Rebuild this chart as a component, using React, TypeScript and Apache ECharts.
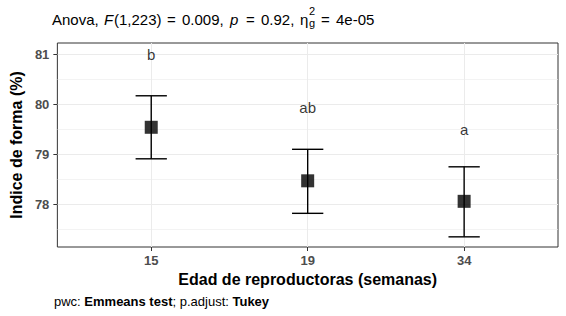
import React, { useEffect, useRef } from "react";
import * as echarts from "echarts";

const categories = ["15", "19", "34"];
const means = [79.54, 78.47, 78.06];
const lower = [78.91, 77.82, 77.35];
const upper = [80.17, 79.1, 78.75];
const letters = ["b", "ab", "a"];
const letterY = [81.0, 79.93, 79.49];
const yTicks = [78, 79, 80, 81];
const yMinor = [77.5, 78.5, 79.5, 80.5];
const yMin = 77.147;
const yMax = 81.225;
const xTitle = "Edad de reproductoras (semanas)";
const yTitle = "Indice de forma (%)";

const FONT = "'Liberation Sans', Arial, Helvetica, sans-serif";

type Seg = { t: string; size: number; x?: number; weight?: string; style?: string; dy?: number };

function measure(ctx: CanvasRenderingContext2D, s: Seg) {
  ctx.font = `${s.style || "normal"} ${s.weight || "normal"} ${s.size}px ${FONT}`;
  return ctx.measureText(s.t).width;
}

function textEl(s: Seg, x: number, baseline: number) {
  return {
    type: "text",
    x,
    y: baseline + (s.dy || 0) - 0.3465 * s.size,
    silent: true,
    style: {
      text: s.t,
      fontSize: s.size,
      fontFamily: FONT,
      fontWeight: s.weight || "normal",
      fontStyle: s.style || "normal",
      fill: "#000",
      align: "left",
      verticalAlign: "middle",
    },
  };
}

export default function App() {
  const ref = useRef<HTMLDivElement>(null);
  useEffect(() => {
    if (!ref.current) return;
    const chart = echarts.init(ref.current, undefined, { renderer: "svg" });
    const canvas = document.createElement("canvas");
    const ctx = canvas.getContext("2d")!;

    // title laid out like R plotmath, with its wider spacing
    const titleSegs: Seg[] = [
      { t: "Anova,", size: 15, x: 52 },
      { t: "F", size: 15, x: 104, style: "italic" },
      { t: "(1,223)", size: 15, x: 114 },
      { t: "=", size: 15, x: 167 },
      { t: "0.009,", size: 15, x: 182 },
      { t: "p", size: 15, x: 230, style: "italic" },
      { t: "=", size: 15, x: 246 },
      { t: "0.92,", size: 15, x: 261 },
      { t: "η", size: 15, x: 300 },
      { t: "2", size: 11, x: 309, dy: -10 },
      { t: "g", size: 11, x: 309, dy: 2 },
      { t: "=", size: 15, x: 321 },
      { t: "4e-05", size: 15, x: 336 },
    ];
    const captionSegs: Seg[] = [
      { t: "pwc: ", size: 13 },
      { t: "Emmeans test", size: 13, weight: "bold" },
      { t: "; p.adjust: ", size: 13 },
      { t: "Tukey", size: 13, weight: "bold" },
    ];
    const graphics: any[] = titleSegs.map((s) => textEl(s, s.x as number, 25));
    let cx = 54;
    for (const s of captionSegs) {
      graphics.push(textEl(s, cx, 306));
      cx += measure(ctx, s);
    }

    const xs = categories.map((_, i) => i + 1);
    const errData = xs.map((x, i) => [x, lower[i], upper[i]]);
    const meanData = xs.map((x, i) => [x, means[i]]);
    const letterData = xs.map((x, i) => ({ value: [x, letterY[i]], name: letters[i] }));

    const grid = "#ebebeb";
    const markData = [
      ...yTicks.map((v) => ({ yAxis: v, lineStyle: { color: grid, width: 1, type: "solid" } })),
      ...yMinor.map((v) => ({ yAxis: v, lineStyle: { color: grid, width: 0.6, type: "solid" } })),
      ...xs.map((v) => ({ xAxis: v, lineStyle: { color: grid, width: 1, type: "solid" } })),
    ];

    const tickLabel = {
      color: "#4d4d4d",
      fontSize: 13,
      fontWeight: "bold",
      fontFamily: FONT,
    };

    chart.setOption({
      animation: false,
      textStyle: { fontFamily: FONT },
      grid: {
        left: 54,
        top: 43,
        width: 504,
        height: 204,
        show: true,
        borderColor: "#333",
        borderWidth: 1,
        backgroundColor: "transparent",
        containLabel: false,
      },
      graphic: graphics,
      xAxis: {
        type: "value",
        min: 0.4,
        max: 3.6,
        axisLine: { show: false },
        splitLine: { show: false },
        axisTick: {
          show: true,
          customValues: xs,
          length: 4,
          lineStyle: { color: "#333", width: 1 },
        },
        axisLabel: {
          ...tickLabel,
          customValues: xs,
          margin: 7,
          formatter: (v: number) => categories[Math.round(v) - 1] ?? "",
        },
        name: xTitle,
        nameLocation: "middle",
        nameGap: 24,
        nameTextStyle: { fontSize: 16, fontWeight: "bold", color: "#000", fontFamily: FONT },
      },
      yAxis: {
        type: "value",
        min: yMin,
        max: yMax,
        axisLine: { show: false },
        splitLine: { show: false },
        axisTick: {
          show: true,
          customValues: yTicks,
          length: 4,
          lineStyle: { color: "#333", width: 1 },
        },
        axisLabel: {
          ...tickLabel,
          customValues: yTicks,
          margin: 8,
        },
        name: yTitle,
        nameLocation: "middle",
        nameRotate: 90,
        nameGap: 22,
        nameTextStyle: { fontSize: 16, fontWeight: "bold", color: "#000", fontFamily: FONT },
      },
      series: [
        {
          type: "line",
          data: [],
          silent: true,
          z: 0,
          markLine: {
            silent: true,
            z: 0,
            zlevel: 0,
            symbol: ["none", "none"],
            label: { show: false },
            animation: false,
            data: markData,
          },
        },
        {
          type: "custom",
          z: 6,
          data: errData,
          renderItem: (params: any, api: any) => {
            const x = api.value(0);
            const lo = api.value(1);
            const hi = api.value(2);
            const pHi = api.coord([x, hi]);
            const pLo = api.coord([x, lo]);
            const l = api.coord([x - 0.1, hi])[0];
            const r = api.coord([x + 0.1, hi])[0];
            const st = { stroke: "#000", lineWidth: 1.4 };
            return {
              type: "group",
              children: [
                { type: "line", shape: { x1: pHi[0], y1: pHi[1], x2: pLo[0], y2: pLo[1] }, style: st },
                { type: "line", shape: { x1: l, y1: pHi[1], x2: r, y2: pHi[1] }, style: st },
                { type: "line", shape: { x1: l, y1: pLo[1], x2: r, y2: pLo[1] }, style: st },
              ],
            };
          },
        },
        {
          type: "scatter",
          z: 7,
          symbol: "rect",
          symbolSize: 13,
          itemStyle: { color: "#000" },
          data: meanData,
        },
        {
          type: "scatter",
          z: 7,
          symbolSize: 0,
          data: letterData,
          label: {
            show: true,
            position: "inside",
            formatter: (p: any) => p.name,
            color: "#000",
            fontSize: 15,
            fontFamily: FONT,
          },
        },
      ],
    });
    return () => chart.dispose();
  }, []);
  return (
    <div
      ref={ref}
      style={{ position: "fixed", left: 0, top: 0, width: 566, height: 316, background: "#fff" }}
    />
  );
}
